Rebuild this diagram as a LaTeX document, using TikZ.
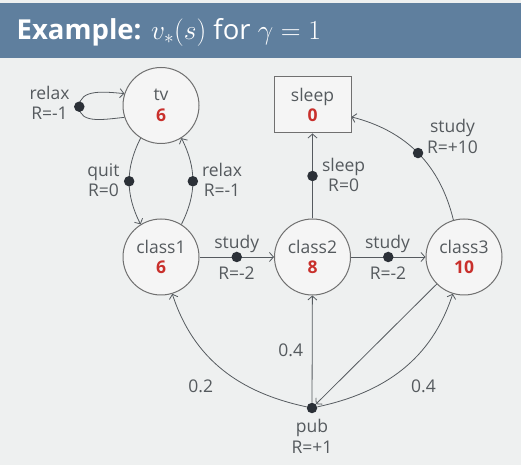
\documentclass[tikz,border=0pt]{standalone}
\usepackage{fix-cm}
\usepackage{fontspec}
\setmainfont{Open Sans}
\usetikzlibrary{arrows.meta}
\definecolor{bgc}{HTML}{EEF0F0}
\definecolor{barc}{HTML}{5F7F9E}
\definecolor{linec}{HTML}{555A5F}
\definecolor{rimc}{HTML}{707070}
\definecolor{txtc}{HTML}{555A5E}
\definecolor{valc}{HTML}{C9302C}
\definecolor{dotc}{HTML}{2B3037}
\definecolor{fillc}{HTML}{F5F5F5}
\newcommand\statevalue[1]{\textcolor{valc}{\textbf{#1}}}
\begin{document}
\begin{tikzpicture}[x=1pt,y=1pt,
  font=\fontsize{17.5}{20.5}\selectfont,
  state/.style={circle, draw=rimc, fill=fillc, line width=1pt, minimum size=76pt,
    inner sep=0pt, align=center, text=txtc},
  term/.style={rectangle, draw=rimc, fill=fillc, line width=1pt, minimum width=77pt,
    minimum height=56pt, inner sep=0pt, align=center, text=txtc},
  act/.style={circle, fill=dotc, minimum size=10.5pt, inner sep=0pt},
  lbl/.style={text=txtc, align=center, inner sep=0pt, anchor=base},
  edge/.style={draw=linec, line width=0.8pt},
  arr/.style={edge, -{Straight Barb[length=4pt,width=9pt]}},
]
\useasboundingbox (0,0) rectangle (521,465);
\fill[bgc] (0,0) rectangle (521,465);
% title bar
\fill[barc] (0,406.7) rectangle (521,462);
\node[anchor=base west, inner sep=0pt, text=white,
  font=\fontsize{27.5}{33}\selectfont] (title) at (16.5,425.7)
  {\textbf{Example:} $v_*(s)$ for $\gamma=1$};

% states
\node[state] (tv)     at (161,359.5) {tv\\\statevalue{6}};
\node[state] (class1) at (161,208)   {class1\\\statevalue{6}};
\node[state] (class2) at (312.5,208) {class2\\\statevalue{8}};
\node[state] (class3) at (464,208)   {class3\\\statevalue{10}};
\node[term]  (sleep)  at (312.5,360) {sleep\\\statevalue{0}};
\node[act]   (pub)    at (312,57)    {};

% self loop of tv
\coordinate (relaxpt) at (79.3,358.3);
\draw[edge] (tv.198) to[out=185,in=-90] (relaxpt);
\draw[arr] (relaxpt) to[out=90,in=175] (tv.162);
\node[act] (relaxdot) at (relaxpt) {};

% transitions with actions
\draw[arr] (tv.238) to[bend right=27] node[act] (quitdot) {} (class1.122);
\draw[arr] (class1.58) to[bend right=27] node[act] (relaxdotb) {} (tv.-58);
\draw[arr] (class1) -- node[act] (studya) {} (class2);
\draw[arr] (class2) -- node[act] (studyb) {} (class3);
\draw[arr] (class2) -- node[act] (sleepdot) {} (sleep);
\draw[arr] (class3.106) to[bend right=31] node[act] (studyc) {} (sleep.-17);
\draw[arr] (class3) -- (pub);

% chance branches of pub
\draw[arr] (pub) -- (class2);
\draw[arr] (pub) to[out=168,in=-72] (class1.-73);
\draw[arr] (pub) to[out=12,in=-108] (class3.-107);

% labels (base = baseline of the last line)
\node[lbl] (lrelaxa) at (49.5,345)    {relax\\R=-1};
\node[lbl] (lquit)   at (103.5,268.3) {quit\\R=0};
\node[lbl] (lrelaxb) at (222,268.3)   {relax\\R=-1};
\node[lbl] (lstudya) at (236.7,216.7) {study};
\node[lbl] (lrewa)   at (236.5,185.7) {R=-2};
\node[lbl] (lstudyb) at (387.5,216.7) {study};
\node[lbl] (lrewb)   at (388,185.7)   {R=-2};
\node[lbl] (lsleep)  at (343.6,273.3) {sleep\\R=0};
\node[lbl] (lstudyc) at (452.5,311.5) {study\\R=+10};
\node[lbl] (lpub)    at (312,11.7)    {pub\\R=+1};
\node[lbl] (pmid)    at (290.8,108.3) {0.4};
\node[lbl] (pleft)   at (200.8,72.3)  {0.2};
\node[lbl] (pright)  at (423.5,72.3)  {0.4};
\end{tikzpicture}
\end{document}
